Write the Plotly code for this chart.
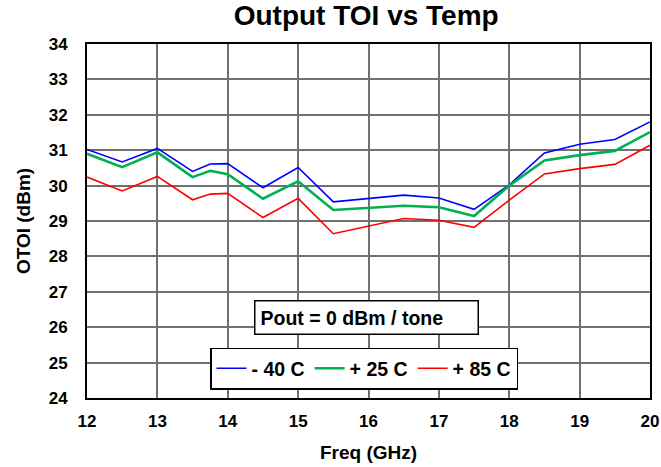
import plotly.graph_objects as go

freq = [12, 12.5, 13, 13.5, 13.75, 14, 14.5, 15, 15.5, 16, 16.5, 17, 17.5, 18, 18.5, 19, 19.5, 20]
toi_m40 = [31.02, 30.67, 31.05, 30.40, 30.61, 30.62, 29.94, 30.51, 29.54, 29.64, 29.73, 29.65, 29.33, 30.02, 30.92, 31.17, 31.30, 31.80]
toi_p25 = [30.90, 30.52, 30.94, 30.24, 30.42, 30.32, 29.63, 30.12, 29.31, 29.36, 29.43, 29.39, 29.14, 30.00, 30.71, 30.86, 30.98, 31.51]
toi_p85 = [30.24, 29.85, 30.26, 29.60, 29.76, 29.78, 29.10, 29.64, 28.64, 28.86, 29.07, 29.02, 28.82, 29.59, 30.33, 30.48, 30.60, 31.14]

names = ["- 40 C", "+ 25 C", "+ 85 C"]
colors = ["#0000FF", "#00B050", "#FF0000"]
widths = [1.6, 2.6, 1.6]

fig = go.Figure()
for ys, n, c, w in zip([toi_m40, toi_p25, toi_p85], names, colors, widths):
    fig.add_trace(go.Scatter(x=freq, y=ys, mode="lines", name=n,
                             line=dict(color=c, width=w)))

font = "Liberation Sans, Arial, sans-serif"
axis_common = dict(dtick=1, showgrid=True, gridcolor="#707070", gridwidth=1.5,
                   showline=True, linecolor="black", linewidth=2, mirror=True,
                   ticks="", zeroline=False, automargin=False,
                   tickfont=dict(size=17, family=font, weight="bold"))
fig.update_layout(
    width=661, height=467,
    margin=dict(l=87, r=11, t=44, b=69),
    paper_bgcolor="white", plot_bgcolor="white",
    font=dict(family=font, color="black"),
    title=dict(text="Output TOI vs Temp", x=0.554, xanchor="center",
               y=0.968, yanchor="middle", font=dict(size=28, weight="bold")),
    xaxis=dict(range=[12, 20], ticklabelstandoff=7,
               title=dict(text="Freq (GHz)", font=dict(size=19, weight="bold"), standoff=15),
               **axis_common),
    yaxis=dict(range=[24, 34], ticklabelstandoff=14,
               title=dict(text="OTOI (dBm)", font=dict(size=19, weight="bold"), standoff=13),
               **axis_common),
    legend=dict(orientation="h", x=0.2185, y=0.083, xanchor="left", yanchor="middle",
                bgcolor="white", bordercolor="black", borderwidth=1.5,
                font=dict(size=19.5, family=font, weight="bold"), itemwidth=30,
                tracegroupgap=0),
    showlegend=True,
)
fig.add_annotation(text="Pout = 0 dBm / tone", xref="paper", yref="paper",
                   x=0.4956, y=0.226, xanchor="center", yanchor="middle", showarrow=False,
                   font=dict(size=19.5, family=font, weight="bold"), bgcolor="white",
                   bordercolor="black", borderwidth=1.5, borderpad=5, width=212, align="left")
fig.write_html("out.html", config={"displayModeBar": False},
               post_script="document.body.style.margin='0px';")
